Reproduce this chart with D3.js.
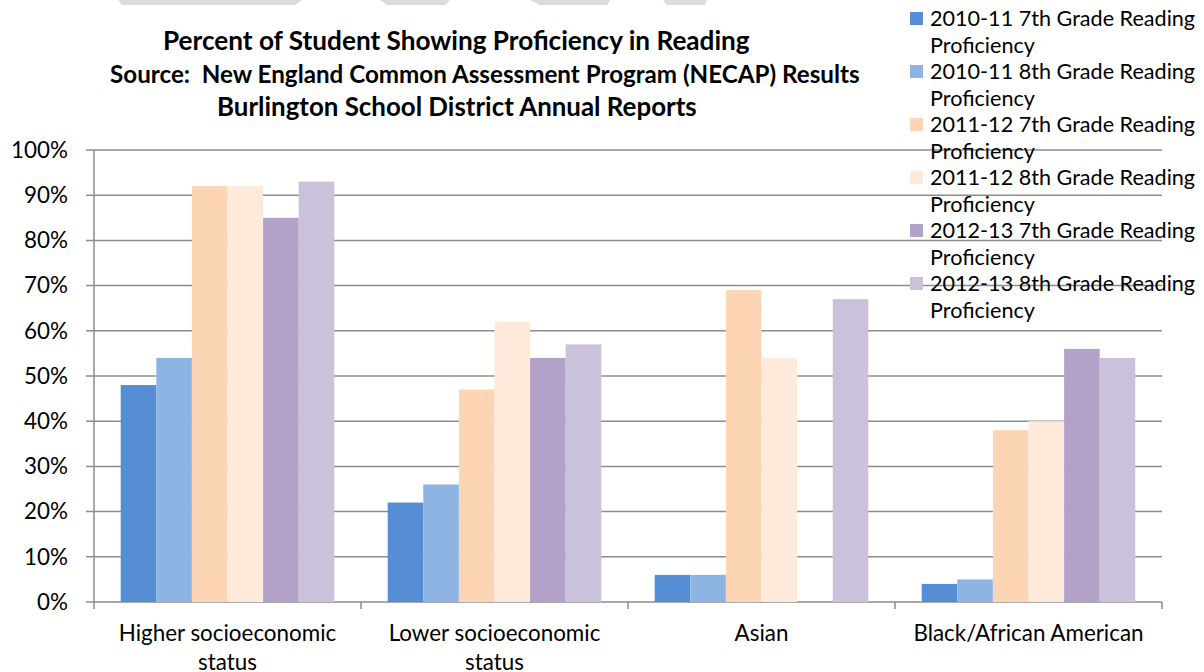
<!DOCTYPE html>
<html>
<head>
<meta charset="utf-8">
<script src="https://cdn.jsdelivr.net/npm/d3@7"></script>
<style>
  body { margin: 0; background: #fff; }
  text { font-family: Lato, "Open Sans", sans-serif; fill: #000; white-space: pre; }
</style>
</head>
<body>
<script>
"use strict"

// Data
const categories = ["Higher socioeconomic status", "Lower socioeconomic status", "Asian", "Black/African American"]
const series = [
  "2010-11 7th Grade Reading Proficiency",
  "2010-11 8th Grade Reading Proficiency",
  "2011-12 7th Grade Reading Proficiency",
  "2011-12 8th Grade Reading Proficiency",
  "2012-13 7th Grade Reading Proficiency",
  "2012-13 8th Grade Reading Proficiency",
]
// one array per series, one value per category (null = no bar)
const values = [
  [48, 22, 6, 4],
  [54, 26, 6, 5],
  [92, 47, 69, 38],
  [92, 62, 54, 40],
  [85, 54, null, 56],
  [93, 57, 67, 54],
]
const colors = ["#558ed5", "#8eb4e3", "#fcd5b5", "#fdeada", "#b3a2c7", "#ccc1da"]
const yTicks = [0, 10, 20, 30, 40, 50, 60, 70, 80, 90, 100]
const titleLines = [
  "Percent of Student Showing Proficiency in Reading",
  "Source:  New England Common Assessment Program (NECAP) Results",
  "Burlington School District Annual Reports",
]

const width = 1204
const height = 672
const margin = { top: 150, right: 42, bottom: 70, left: 94 }

const svg = d3.select("body").append("svg")
  .attr("width", width)
  .attr("height", height)

// faint page decoration along the top edge
const decor = [[118, 302, 122, 295], [380, 450, 387, 445], [530, 610, 540, 607], [663, 707, 667, 705]]
svg.selectAll(".decor").data(decor).enter().append("path")
  .attr("class", "decor")
  .attr("fill", "#dcdcdc")
  .attr("d", ([a, b, c, d]) => `M${a},0H${b}L${d},5H${c}Z`)

const x = d3.scaleBand().domain(categories).range([margin.left, width - margin.right])
const xInner = d3.scaleBand().domain(d3.range(series.length))
  .range([0, x.bandwidth()]).paddingOuter(0.75)
const y = d3.scaleLinear().domain([0, 100]).range([height - margin.bottom, margin.top])

// gridlines
svg.append("g").attr("class", "grid")
  .selectAll("line").data(yTicks).enter().append("line")
  .attr("x1", margin.left - 8)
  .attr("x2", width - margin.right)
  .attr("y1", d => y(d))
  .attr("y2", d => y(d))
  .attr("stroke", "#8c8c8c")
  .attr("stroke-width", 1.5)

// y labels
svg.append("g").selectAll("text").data(yTicks).enter().append("text")
  .attr("x", 68)
  .attr("y", d => y(d))
  .attr("dy", "0.35em")
  .attr("text-anchor", "end")
  .attr("font-size", 22.4)
  .text(d => d + "%")

// bars
svg.append("g").selectAll("g").data(values).enter().append("g")
  .attr("fill", (_, i) => colors[i])
  .each(function (vals, si) {
    d3.select(this).selectAll("rect")
      .data(vals.map((v, ci) => ({ v, c: categories[ci] })).filter(d => d.v != null))
      .enter().append("rect")
      .attr("x", d => x(d.c) + xInner(si))
      .attr("width", xInner.bandwidth())
      .attr("y", d => y(d.v))
      .attr("height", d => y(0) - y(d.v))
  })

// axes lines
svg.append("line")
  .attr("x1", margin.left).attr("x2", margin.left)
  .attr("y1", y(100)).attr("y2", y(0))
  .attr("stroke", "#8c8c8c").attr("stroke-width", 1.5)

const bounds = categories.map(c => x(c)).concat([width - margin.right])
svg.append("g").selectAll("line").data(bounds).enter().append("line")
  .attr("x1", d => d).attr("x2", d => d)
  .attr("y1", y(0)).attr("y2", y(0) + 7)
  .attr("stroke", "#8c8c8c").attr("stroke-width", 1.5)

// word wrap helper
const wrap = (sel, maxWidth, lineHeight) => {
  sel.each(function () {
    const text = d3.select(this)
    const words = text.text().split(/\s+/)
    const x0 = text.attr("x")
    text.text(null)
    let line = []
    let tspan = text.append("tspan").attr("x", x0).attr("dy", 0)
    words.forEach(w => {
      line.push(w)
      tspan.text(line.join(" "))
      if (tspan.node().getComputedTextLength() > maxWidth && line.length > 1) {
        line.pop()
        tspan.text(line.join(" "))
        line = [w]
        tspan = text.append("tspan").attr("x", x0).attr("dy", lineHeight).text(w)
      }
    })
  })
}

// category labels
svg.append("g").selectAll("text").data(categories).enter().append("text")
  .attr("x", d => x(d) + x.bandwidth() / 2)
  .attr("y", 641)
  .attr("text-anchor", "middle")
  .attr("font-size", 22.4)
  .text(d => d)
  .call(wrap, x.bandwidth() - 10, 29)

// title, each line fitted to the width it has in the original
const titleFit = [{ x: 163, w: 587 }, { x: 110, w: 750 }, { x: 217, w: 480 }]
svg.append("g").selectAll("text").data(titleLines).enter().append("text")
  .attr("x", (_, i) => titleFit[i].x)
  .attr("y", (_, i) => 50 + i * 33)
  .attr("font-size", 21)
  .attr("font-weight", "bold")
  .text(d => d)
  .each(function (_, i) {
    const len = this.getComputedTextLength()
    d3.select(this).attr("font-size", 21 * titleFit[i].w / len)
  })

// legend
const legend = svg.append("g").selectAll("g").data(series).enter().append("g")
  .attr("transform", (_, i) => `translate(910 ${12 + i * 53})`)
legend.append("rect")
  .attr("width", 13).attr("height", 13)
  .attr("fill", (_, i) => colors[i])
legend.append("text")
  .attr("x", 20)
  .attr("y", 14)
  .attr("font-size", 21.6)
  .text(d => d)
  .call(wrap, 280, 27)
</script>
</body>
</html>
